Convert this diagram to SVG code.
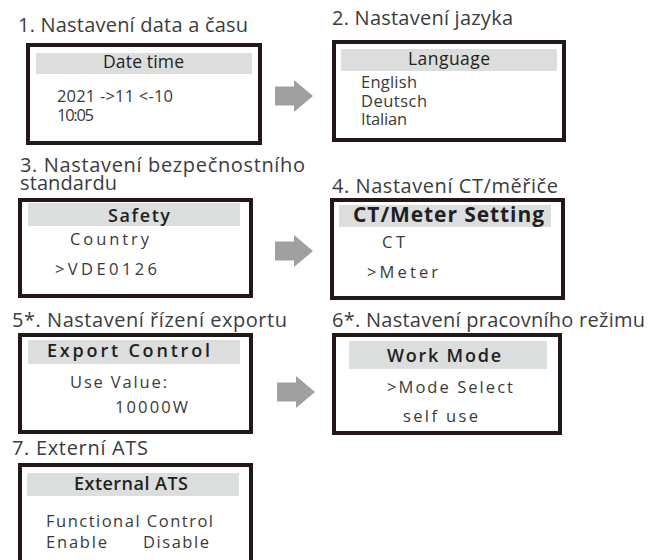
<svg xmlns="http://www.w3.org/2000/svg" xmlns:xlink="http://www.w3.org/1999/xlink" width="652" height="560" viewBox="0 0 652 560">
<style>
text{font-family:"Open Sans","Liberation Sans",sans-serif;}
.t{font-size:20px;fill:#3c3c3c;}
.h{font-size:17.5px;fill:#231f20;font-weight:500;}
.hb{font-size:18px;fill:#231f20;font-weight:600;}
.b{font-size:16.5px;fill:#3a3a3a;}
.box{fill:#fff;stroke:#231815;stroke-width:4;}
.band{fill:#dcdddd;}
.arr{fill:#a0a0a0;}
</style>
<defs>
<path id="arrow" d="M0,-9.5 H19 V-16 L38,0 L19,16 V9.5 H0 Z"/>
</defs>
<rect width="652" height="560" fill="#fff"/>
<g id="connectors">
<use xlink:href="#arrow" class="arr" transform="translate(275,96)"/>
<use xlink:href="#arrow" class="arr" transform="translate(275,251)"/>
<use xlink:href="#arrow" class="arr" transform="translate(277,392)"/>
</g>
<g id="node1">
<text class="t" x="18" y="32" textLength="230">1. Nastavení data a času</text>
<rect class="box" x="28" y="45" width="232" height="98"/>
<rect class="band" x="36" y="53" width="216" height="21"/>
<text class="h" x="103" y="68" textLength="81">Date time</text>
<text class="b"><tspan x="57" y="102" textLength="116">2021 -&gt;11 &lt;-10</tspan><tspan x="57" y="121" textLength="37">10:05</tspan></text>
</g>
<g id="node2">
<text class="t" x="332" y="25" textLength="181">2. Nastavení jazyka</text>
<rect class="box" x="334" y="42" width="230" height="98"/>
<rect class="band" x="341" y="49" width="216" height="22"/>
<text class="h" x="408" y="65" textLength="82">Language</text>
<text class="b"><tspan x="361" y="88" textLength="56">English</tspan><tspan x="361" y="107" textLength="66">Deutsch</tspan><tspan x="361" y="125" textLength="46">Italian</tspan></text>
</g>
<g id="node3">
<text class="t"><tspan x="20" y="172" textLength="285">3. Nastavení bezpečnostního</tspan><tspan x="20" y="190" textLength="97">standardu</tspan></text>
<rect class="box" x="20" y="200" width="231" height="96"/>
<rect class="band" x="28" y="203" width="212" height="23"/>
<text class="hb" x="108" y="222" textLength="62">Safety</text>
<text class="b" x="70" y="245" textLength="79">Country</text>
<text class="b" x="55" y="275" textLength="102">&gt;VDE0126</text>
</g>
<g id="node4">
<text class="t" x="332" y="193" textLength="226">4. Nastavení CT/měřiče</text>
<rect class="box" x="332" y="200" width="231" height="98"/>
<rect class="band" x="339" y="205" width="212" height="22"/>
<text class="hb" x="353" y="222" textLength="191" style="font-size:21px;font-weight:700">CT/Meter Setting</text>
<text class="b" x="382" y="248" textLength="23">CT</text>
<text class="b" x="367" y="278" textLength="71">&gt;Meter</text>
</g>
<g id="node5">
<text class="t" x="12" y="327" textLength="275">5*. Nastavení řízení exportu</text>
<rect class="box" x="20" y="335" width="231" height="97"/>
<rect class="band" x="28" y="340" width="212" height="24"/>
<text class="hb" x="47" y="357" textLength="163">Export Control</text>
<text class="b" x="70" y="388" textLength="97">Use Value:</text>
<text class="b" x="115" y="413" textLength="73">10000W</text>
</g>
<g id="node6">
<text class="t" x="332" y="327" textLength="313">6*. Nastavení pracovního režimu</text>
<rect class="box" x="334" y="335" width="226" height="98"/>
<rect class="band" x="349" y="341" width="198" height="28"/>
<text class="hb" x="387" y="362" textLength="114">Work Mode</text>
<text class="b" x="387" y="393" textLength="126">&gt;Mode Select</text>
<text class="b" x="403" y="422" textLength="75">self use</text>
</g>
<g id="node7">
<text class="t" x="12" y="455" textLength="136">7. Externí ATS</text>
<rect class="box" x="20" y="465" width="231" height="105"/>
<rect class="band" x="27" y="473" width="212" height="23"/>
<text class="hb" x="74" y="490" textLength="114">External ATS</text>
<text class="b" x="46" y="527" textLength="167">Functional Control</text>
<text class="b" x="46" y="548" textLength="61">Enable</text>
<text class="b" x="143" y="548" textLength="66">Disable</text>
</g>
</svg>
